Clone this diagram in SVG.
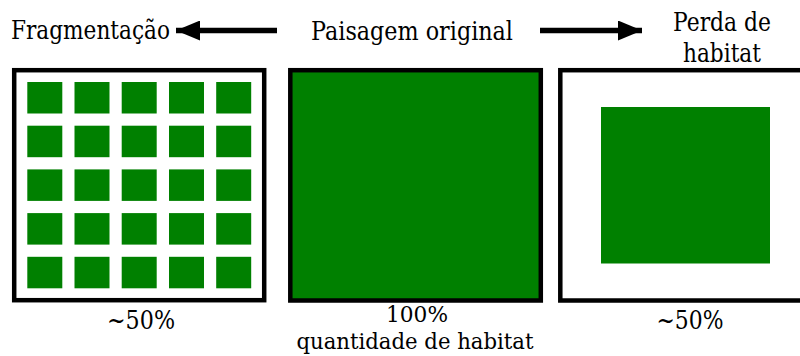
<svg xmlns="http://www.w3.org/2000/svg" width="800" height="356" viewBox="0 0 800 356">
<defs>
<style>
.box{stroke:#000;stroke-width:4.5}
.g{fill:#008000}
.arr{stroke:#000;stroke-width:5.5;fill:none}
</style>
<marker id="ah" markerWidth="24" markerHeight="20" refX="24" refY="10" orient="auto" markerUnits="userSpaceOnUse">
<path d="M0,0 L24,10 L0,20 Z" fill="#000"/>
</marker>
</defs>
<rect width="800" height="356" fill="#fff"/>
<g id="connectors">
<line class="arr" x1="277" y1="30.5" x2="176" y2="30.5" marker-end="url(#ah)"/>
<line class="arr" x1="540" y1="30.5" x2="642" y2="30.5" marker-end="url(#ah)"/>
</g>
<g font-family="DejaVu Serif, Liberation Serif, serif" font-size="26" fill="#000">
<g id="label-fragmentacao"><text x="11" y="39" textLength="159" lengthAdjust="spacingAndGlyphs">Fragmentação</text></g>
<g id="label-original"><text x="311" y="40" textLength="202" lengthAdjust="spacingAndGlyphs">Paisagem original</text></g>
<g id="label-perda"><text x="722" y="31" text-anchor="middle" textLength="98" lengthAdjust="spacingAndGlyphs">Perda de</text><text x="722" y="62" text-anchor="middle" textLength="78" lengthAdjust="spacingAndGlyphs">habitat</text></g>
</g>
<g id="node-fragmentado">
<rect class="box" x="14.2" y="70.2" width="250" height="230" fill="#fff"/>
<g class="g">
<rect x="27.3" y="82" width="35" height="31.5"/><rect x="74.5" y="82" width="35" height="31.5"/><rect x="121.7" y="82" width="35" height="31.5"/><rect x="169" y="82" width="35" height="31.5"/><rect x="216.2" y="82" width="35" height="31.5"/>
<rect x="27.3" y="125.7" width="35" height="31.5"/><rect x="74.5" y="125.7" width="35" height="31.5"/><rect x="121.7" y="125.7" width="35" height="31.5"/><rect x="169" y="125.7" width="35" height="31.5"/><rect x="216.2" y="125.7" width="35" height="31.5"/>
<rect x="27.3" y="169.4" width="35" height="31.5"/><rect x="74.5" y="169.4" width="35" height="31.5"/><rect x="121.7" y="169.4" width="35" height="31.5"/><rect x="169" y="169.4" width="35" height="31.5"/><rect x="216.2" y="169.4" width="35" height="31.5"/>
<rect x="27.3" y="213.1" width="35" height="31.5"/><rect x="74.5" y="213.1" width="35" height="31.5"/><rect x="121.7" y="213.1" width="35" height="31.5"/><rect x="169" y="213.1" width="35" height="31.5"/><rect x="216.2" y="213.1" width="35" height="31.5"/>
<rect x="27.3" y="256.8" width="35" height="31.5"/><rect x="74.5" y="256.8" width="35" height="31.5"/><rect x="121.7" y="256.8" width="35" height="31.5"/><rect x="169" y="256.8" width="35" height="31.5"/><rect x="216.2" y="256.8" width="35" height="31.5"/>
</g>
<text x="141" y="329" text-anchor="middle" font-family="DejaVu Serif, Liberation Serif, serif" font-size="26" textLength="68" lengthAdjust="spacingAndGlyphs">~50%</text>
</g>
<g id="node-original">
<rect class="box g" x="290.3" y="70.2" width="250.5" height="230.3"/>
<text x="417" y="322" text-anchor="middle" font-family="DejaVu Serif, Liberation Serif, serif" font-size="23" textLength="62" lengthAdjust="spacingAndGlyphs">100%</text>
<text x="415" y="349" text-anchor="middle" textLength="237" lengthAdjust="spacingAndGlyphs" font-family="DejaVu Serif, Liberation Serif, serif" font-size="23">quantidade de habitat</text>
</g>
<g id="node-perda">
<rect class="box" x="560.3" y="70.2" width="260" height="230.3" fill="#fff"/>
<rect class="g" x="601" y="107" width="169" height="156.5"/>
<text x="690" y="329" text-anchor="middle" font-family="DejaVu Serif, Liberation Serif, serif" font-size="26" textLength="67" lengthAdjust="spacingAndGlyphs">~50%</text>
</g>
</svg>
